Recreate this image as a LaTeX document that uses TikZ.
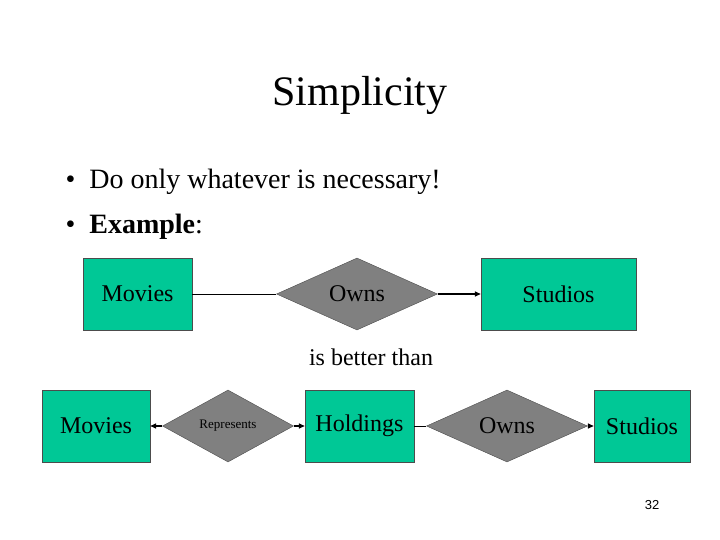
\documentclass[tikz,border=0pt]{standalone}
\usepackage{fontspec}
\setmainfont{Liberation Serif}
\newfontfamily\numfont{Liberation Sans}
\usetikzlibrary{shapes.geometric,arrows.meta}
\definecolor{ent}{RGB}{0,200,150}
\definecolor{rel}{RGB}{128,128,128}
\begin{document}
\begin{tikzpicture}[x=1pt,y=-1pt,
 ent/.style={draw=black!70,fill=ent,minimum width=#1,minimum height=72,inner sep=0,font=\fontsize{24}{28}\selectfont},
 rel/.style={diamond,aspect=2.2,draw=black!70,fill=rel,inner sep=0,minimum width=#1,minimum height=72},
 con/.style={line width=0.6pt},
 arr/.style={line width=1.4pt,-{Triangle[length=6pt,width=5pt]}}]
\useasboundingbox (0,0) rectangle (720,540);
\node (t) at (360,95) {\fontsize{42}{48}\selectfont Simplicity};
\node[anchor=west,font=\fontsize{28}{32}\selectfont] (b1) at (62,182) {\textbullet\ \ Do only whatever is necessary!};
\node[anchor=west,font=\fontsize{28}{32}\selectfont] (b2) at (62,227) {\textbullet\ \ \textbf{Example}:};
% top
\node[ent=109] (m1) at (137.5,294) {Movies};
\node[rel=161] (o1) at (357,294) {\fontsize{24}{28}\selectfont Owns};
\node[ent=155] (s1) at (558.5,294) {Studios};
\draw[con] (m1) -- (o1);
\draw[arr] (o1) -- (s1);
\node (bt) at (371,357) {\fontsize{24}{28}\selectfont is better than};
% bottom
\node[ent=108] (m2) at (96,426) {Movies};
\node[rel=131] (r2) at (228,426) {\fontsize{13}{15}\selectfont Represents};
\node[ent=109] (h2) at (359.5,426) {Holdings};
\node[rel=161] (o2) at (507,426) {\fontsize{24}{28}\selectfont Owns};
\node[ent=96] (s2) at (642,426) {Studios};
\draw[arr] (r2) -- (m2);
\draw[arr] (r2) -- (h2);
\draw[con] (h2) -- (o2);
\draw[arr] (o2) -- (s2);
\node[font=\numfont\fontsize{13}{15}\selectfont] (n) at (652,505) {32};
\end{tikzpicture}
\end{document}
